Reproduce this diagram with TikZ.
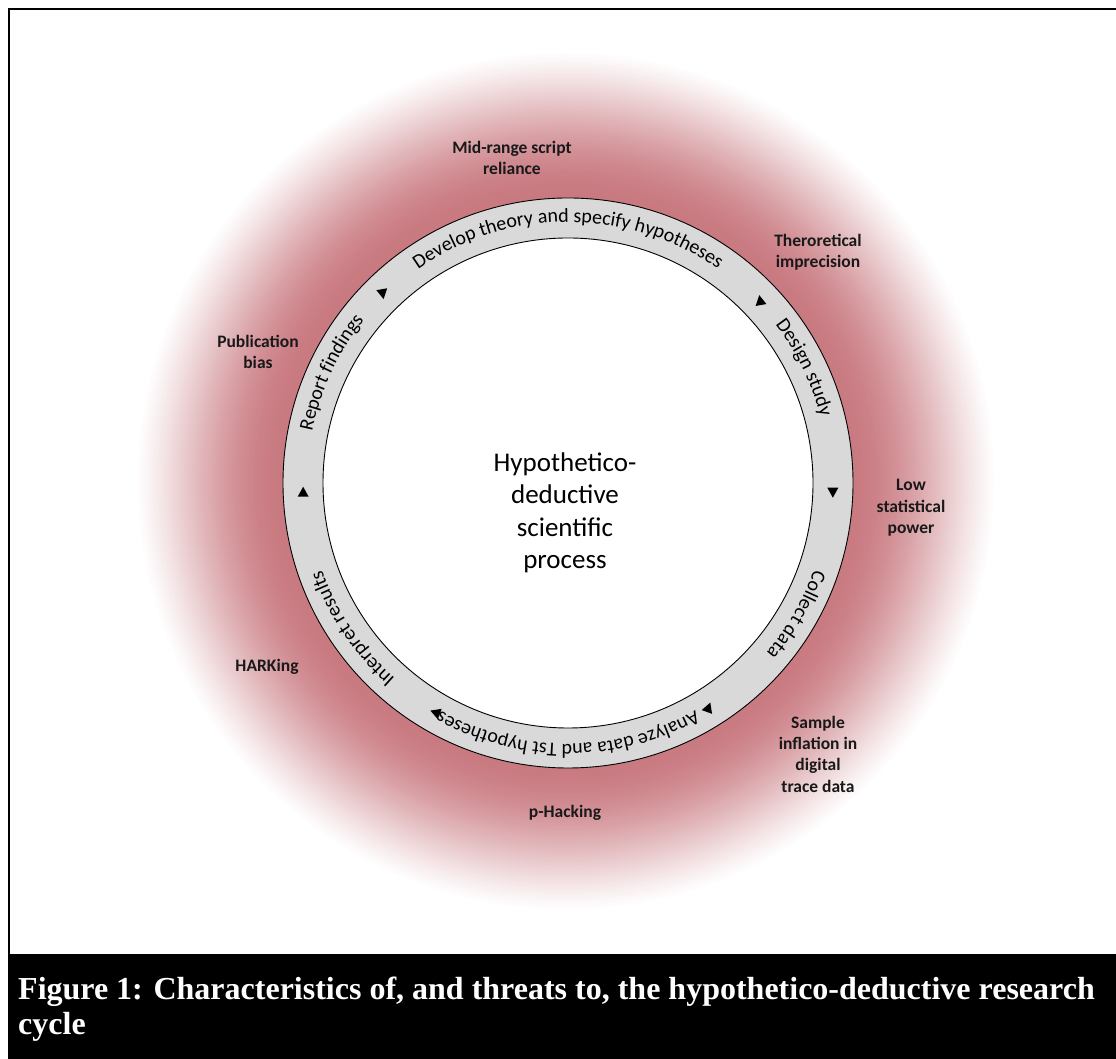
\documentclass[tikz,border=0pt]{standalone}
\usepackage{fontspec}
\setmainfont{Carlito}
\newfontfamily\capfont{Liberation Serif}
\usetikzlibrary{decorations.text}
\definecolor{ringgray}{RGB}{217,217,217}
\definecolor{glowred}{RGB}{201,122,129}
\begin{document}
\begin{tikzpicture}[x=1pt,y=1pt,
  lab/.style={font=\bfseries\fontsize{17.5}{21.3}\selectfont, align=center, text=black!90, inner sep=0pt},
  ringtext/.style={decorate, decoration={text along path, text align=center,
      text={|\fontsize{20}{24}\selectfont|#1}}},
  tri/.style={fill=black}]
\useasboundingbox (0,0) rectangle (1116,1059);
\fill[white] (0,0) rectangle (1116,1059);
% glow: concentric discs fading outwards
\foreach \i in {0,...,72} {
  \pgfmathsetmacro\rr{430-2*\i}
  \pgfmathsetmacro\tt{(430-\rr)/145}
  \pgfmathsetmacro\pp{100*(\tt+\tt*\tt-\tt*\tt*\tt)}
  \fill[glowred!\pp!white] (566,578) circle[radius=\rr];
}
% frame and caption band
\draw[line width=2.5pt] (9,105) -- (9,1050) -- (1116,1050);
\fill[black] (8,0) rectangle (1116,105);
\node[anchor=base west, text=white, inner sep=0pt, font=\capfont\bfseries\fontsize{32}{35}\selectfont] (cap1) at (18,59) {Figure 1: Characteristics of, and threats to, the hypothetico-deductive research};
\node[anchor=base west, text=white, inner sep=0pt, font=\capfont\bfseries\fontsize{32}{35}\selectfont] (cap2) at (18,24) {cycle};
% ring
\begin{scope}[shift={(568,576)}]
  \fill[ringgray, draw=black, line width=0.9pt] (0,0) circle[radius=285];
  \fill[white, draw=black, line width=0.9pt] (0,0) circle[radius=245];
  \path[ringtext={Develop theory and specify hypotheses}] (135:261) arc[start angle=135, end angle=45, radius=261];
  \path[ringtext={Design study}] (56:261) arc[start angle=56, end angle=-4, radius=261];
  \path[ringtext={Collect data}] (0:261) arc[start angle=0, end angle=-60, radius=261];
  \path[ringtext={Analyze data and Tst hypotheses}] (-45:261) arc[start angle=-45, end angle=-135, radius=261];
  \path[ringtext={Interpret results}] (244:261) arc[start angle=244, end angle=184, radius=261];
  \path[ringtext={Report findings}] (185:261) arc[start angle=185, end angle=125, radius=261];
  % small triangles: position angle / tip direction
  \foreach \a/\d in {134.4/-80, 43.5/100, -2/-90, -58/70, -120/160, 182/90}
    \fill[tri, shift={(\a:265)}, rotate=\d] (5.5,0) -- (-4.5,5.5) -- (-4.5,-5.5) -- cycle;
  \node[align=center, font=\fontsize{27}{32.5}\selectfont, inner sep=0pt] (center) at (-3,-30) {Hypothetico-\\deductive\\scientific\\process};
\end{scope}
% threat labels
\node[lab] (mid) at (512,901) {Mid-range script\\reliance};
\node[lab] (theo) at (818,807) {Theroretical\\imprecision};
\node[lab] (pub) at (258,707) {Publication\\bias};
\node[lab] (low) at (911,551) {Low\\statistical\\power};
\node[lab] (hark) at (267,392) {HARKing};
\node[lab] (sample) at (818,305) {Sample\\inflation in\\digital\\trace data};
\node[lab] (phack) at (565,246) {p-Hacking};
\end{tikzpicture}
\end{document}
